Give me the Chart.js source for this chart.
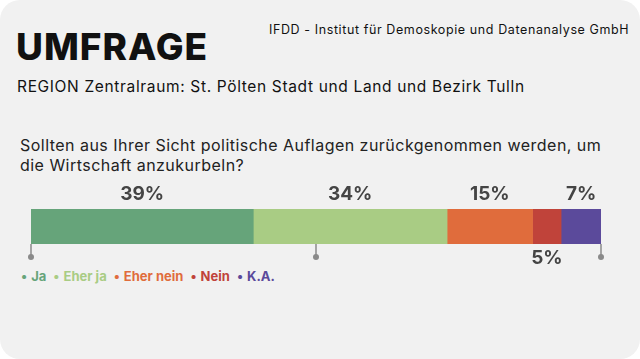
<!DOCTYPE html>
<html>
<head>
<meta charset="utf-8">
<script src="https://cdn.jsdelivr.net/npm/chart.js@4"></script>
<style>
  html, body { margin: 0; padding: 0; background: #fff; }
  body { width: 640px; height: 359px; overflow: hidden; font-family: Inter, "Noto Sans", sans-serif; }
  .card { position: relative; width: 640px; height: 359px; background: #f1f1f1; border-radius: 20px; overflow: hidden; }
  .card div { position: absolute; white-space: nowrap; color: #111; }
  .title { left: 16px; top: 24px; font-size: 37px; font-weight: 800; letter-spacing: 1px; }
  .src { left: 269px; top: 22px; font-size: 12.5px; letter-spacing: 0.6px; }
  .region { left: 17px; top: 77px; font-size: 15.5px; letter-spacing: 0.65px; }
  .question { left: 20px; top: 135px; font-size: 16px; line-height: 20px; letter-spacing: 0.47px; color: #222 !important; }
  .legend { left: 21px; top: 268px; font-size: 13px; font-weight: 700; }
  .legend span { margin-right: 7px; }
  .legend i { font-style: normal; margin-right: 4px; }
  canvas { position: absolute; left: 0; top: 0; }
</style>
</head>
<body>
<div class="card">
  <div class="title">UMFRAGE</div>
  <div class="src">IFDD - Institut für Demoskopie und Datenanalyse GmbH</div>
  <div class="region">REGION Zentralraum: St. Pölten Stadt und Land und Bezirk Tulln</div>
  <div class="question">Sollten aus Ihrer Sicht politische Auflagen zurückgenommen werden, um<br>die Wirtschaft anzukurbeln?</div>
  <div class="legend" id="legend"></div>
  <canvas id="c" width="640" height="359"></canvas>
</div>
<script>
// Antwortkategorien und Anteile in Prozent
const categories = ['Ja', 'Eher ja', 'Eher nein', 'Nein', 'K.A.'];
const values = [39, 34, 15, 5, 7];
const colors = ['#66a47a', '#a9cc84', '#e06c3c', '#c0433a', '#5b4a9b'];
const labelBelow = [false, false, false, true, false];
// Markierungen unter dem Balken
const axisTicks = [0, 50, 100];

document.getElementById('legend').innerHTML = categories.map((c, i) =>
  `<span style="color:${colors[i]}"><i>•</i>${c}</span>`).join('');

// Prozentwerte über/unter den Segmenten
const valueLabels = {
  id: 'valueLabels',
  afterDatasetsDraw(chart) {
    const { ctx } = chart;
    ctx.save();
    ctx.font = '700 19px Inter, "Noto Sans", sans-serif';
    ctx.fillStyle = '#444';
    ctx.textAlign = 'center';
    chart.data.datasets.forEach((ds, i) => {
      const bar = chart.getDatasetMeta(i).data[0];
      const x = (bar.base + bar.x) / 2;
      const h = bar.height / 2;
      if (labelBelow[i]) {
        ctx.textBaseline = 'top';
        ctx.fillText(ds.data[0] + '%', x, bar.y + h + 5);
      } else {
        ctx.textBaseline = 'bottom';
        ctx.fillText(ds.data[0] + '%', x, bar.y - h - 5);
      }
    });
    ctx.restore();
  },
};

// kleine Stecknadeln bei 0, 50, 100
const pinTicks = {
  id: 'pinTicks',
  afterDraw(chart) {
    const { ctx, chartArea, scales } = chart;
    ctx.save();
    ctx.strokeStyle = '#8a8a8a';
    ctx.fillStyle = '#8a8a8a';
    ctx.lineWidth = 1.5;
    axisTicks.forEach(v => {
      const x = scales.x.getPixelForValue(v);
      ctx.beginPath();
      ctx.moveTo(x, chartArea.bottom);
      ctx.lineTo(x, chartArea.bottom + 13);
      ctx.stroke();
      ctx.beginPath();
      ctx.arc(x, chartArea.bottom + 13, 3, 0, Math.PI * 2);
      ctx.fill();
    });
    ctx.restore();
  },
};

new Chart(document.getElementById('c'), {
  type: 'bar',
  plugins: [valueLabels, pinTicks],
  data: {
    labels: [''],
    datasets: categories.map((c, i) => ({
      label: c,
      data: [values[i]],
      backgroundColor: colors[i],
      borderWidth: 0,
      barThickness: 35,
    })),
  },
  options: {
    indexAxis: 'y',
    responsive: false,
    animation: false,
    layout: { padding: { left: 31, right: 39, top: 209, bottom: 115 } },
    plugins: { legend: { display: false }, tooltip: { enabled: false } },
    scales: {
      x: { stacked: true, min: 0, max: 100, display: false },
      y: { stacked: true, display: false },
    },
  },
});
</script>
</body>
</html>
